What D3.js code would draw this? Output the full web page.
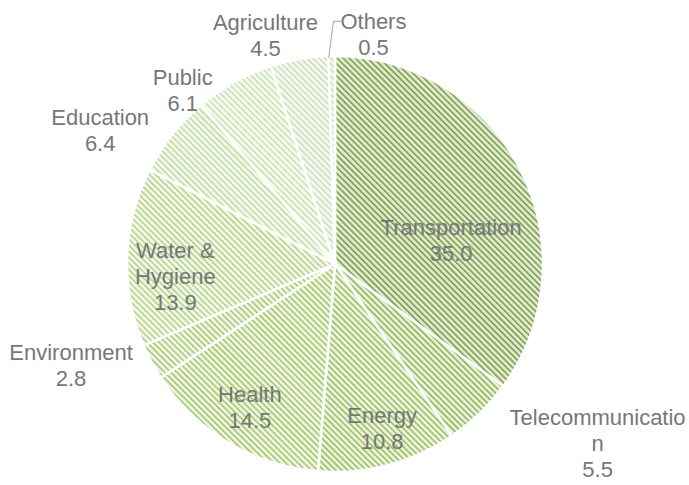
<!DOCTYPE html>
<html>
<head>
<meta charset="utf-8">
<script src="https://cdn.jsdelivr.net/npm/d3@7"></script>
<style>
  body { margin: 0; background: #fff; }
  svg { display: block; }
</style>
</head>
<body>
<div id="chart"></div>
<script>
// sectors, clockwise from 12 o'clock
const sectors = ["Transportation", "Telecommunication", "Energy", "Health", "Environment",
                 "Water & Hygiene", "Education", "Public", "Agriculture", "Others"];
const shares = [35.0, 5.5, 10.8, 14.5, 2.8, 13.9, 6.4, 6.1, 4.5, 0.5];
// label lines as drawn by the original (long words are wrapped)
const labelLines = [
    ["Transportation"], ["Telecommunicatio", "n"], ["Energy"], ["Health"], ["Environment"],
    ["Water &", "Hygiene"], ["Education"], ["Public"], ["Agriculture"], ["Others"]
];

const width = 689, height = 485,
    cx = 335, cy = 264, radius = 208;

// hatch colours (background, stripe) per slice
const hatch = [
    ["#e0ebcd", "#7f9e52"],
    ["#e8f1da", "#93b75c"],
    ["#ebf3df", "#9cc062"],
    ["#eef5e3", "#a5c86c"],
    ["#f0f6e6", "#acca78"],
    ["#f2f8ea", "#b6d389"],
    ["#f4f9ef", "#c3dca2"],
    ["#f6faf1", "#cce2b2"],
    ["#f5f8f0", "#d0dfbd"],
    ["#f3f7ed", "#cfdfba"]
];

// label placement: radius factor and angular shift (deg) from slice middle
const labelPlace = [
    [0.57, 15.4], [1.53, -11.5], [0.82, -1.3], [0.80, 0], [1.36, 7],
    [0.77, -6.3], [1.30, -8.8], [1.11, -12.3], [1.15, -7], [1.12, 10.4]
];

const svg = d3.select("#chart").append("svg")
    .attr("width", width)
    .attr("height", height);

const defs = svg.append("defs");
hatch.forEach(function (h, i) {
    let p = defs.append("pattern")
        .attr("id", "hatch" + i)
        .attr("patternUnits", "userSpaceOnUse")
        .attr("width", 4.3)
        .attr("height", 4.3)
        .attr("patternTransform", "rotate(-45)");
    p.append("rect")
        .attr("width", 4.3).attr("height", 4.3)
        .attr("fill", h[0]);
    p.append("rect")
        .attr("x", 0).attr("width", 1.6).attr("height", 4.3)
        .attr("fill", h[1]);
});

const data = sectors.map(function (s, i) {
    return { name: s, value: shares[i], i: i };
});

const pie = d3.pie()
    .sort(null)
    .value(function (d) { return d.value; });

const arc = d3.arc()
    .innerRadius(0)
    .outerRadius(radius);

const g = svg.append("g")
    .attr("transform", "translate(" + cx + "," + cy + ")");

const arcs = pie(data);

g.selectAll("path")
    .data(arcs)
    .enter().append("path")
    .attr("d", arc)
    .attr("fill", function (d) { return "url(#hatch" + d.data.i + ")"; })
    .attr("stroke", "#fff")
    .attr("stroke-width", 2.5)
    .attr("stroke-linejoin", "round");

// labels
const lineH = 26;
arcs.forEach(function (d) {
    let i = d.data.i;
    let mid = (d.startAngle + d.endAngle) / 2 + labelPlace[i][1] * Math.PI / 180;
    let r = radius * labelPlace[i][0];
    let x = r * Math.sin(mid), y = -r * Math.cos(mid);
    let lines = labelLines[i].concat([d3.format(".1f")(d.data.value)]);
    let t = g.append("text")
        .attr("text-anchor", "middle")
        .attr("font-family", "'Liberation Sans', Arial, sans-serif")
        .attr("font-size", "22px")
        .attr("fill", "#777");
    lines.forEach(function (l, k) {
        t.append("tspan")
            .attr("x", x)
            .attr("y", y + (k - (lines.length - 1) / 2) * lineH)
            .attr("dy", "0.35em")
            .text(l);
    });

    // leader line for the thin "Others" slice
    if (d.data.name === "Others") {
        let a = (d.startAngle + d.endAngle) / 2;
        let p0 = [radius * Math.sin(a) - 3, -radius * Math.cos(a) + 2];
        let ty = y - lineH / 2;
        g.append("polyline")
            .attr("points", [p0, [x - 40, ty], [x - 30, ty]].map(function (p) { return p.join(","); }).join(" "))
            .attr("fill", "none")
            .attr("stroke", "#a6a6a6")
            .attr("stroke-width", 1);
    }
});
</script>
</body>
</html>
